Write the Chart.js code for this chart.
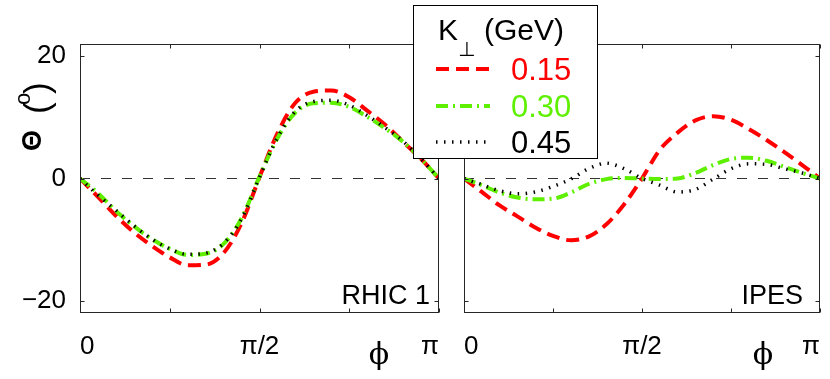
<!DOCTYPE html>
<html>
<head>
<meta charset="utf-8">
<script src="https://cdn.jsdelivr.net/npm/chart.js@4/dist/chart.umd.min.js"></script>
<style>
body { margin: 0; background: #fff; }
#wrap { position: relative; width: 830px; height: 379px; }
.pane { position: absolute; left: 0; top: 0; width: 830px; height: 379px; }
</style>
</head>
<body>
<div id="wrap">
  <div class="pane"><canvas id="rhic" width="830" height="379"></canvas></div>
  <div class="pane"><canvas id="ipes" width="830" height="379"></canvas></div>
</div>
<script>
/**
 *  Data (phi in units of pi, Theta in degrees)
 */
var phi = [0, 0.05, 0.1, 0.15, 0.2, 0.25, 0.3, 0.35, 0.4, 0.45, 0.5, 0.55, 0.6, 0.65, 0.7, 0.75, 0.8, 0.85, 0.9, 0.95, 1];

var rhic_k015 = [0, -3.0, -6.1, -8.8, -11.0, -12.9, -14.2, -14.1, -12.2, -7.3, 0.2, 7.4, 12.4, 14.2, 14.4, 13.3, 11.1, 8.8, 6.0, 3.2, 0];
var rhic_k030 = [0, -2.4, -5.3, -7.8, -9.9, -11.5, -12.5, -12.3, -10.7, -6.5, 0.3, 6.6, 10.8, 12.3, 12.4, 11.7, 10.1, 8.2, 6.0, 3.2, 0];
var rhic_k045 = [0, -2.7, -5.2, -7.7, -9.9, -11.5, -12.4, -12.2, -10.6, -6.6, 0.2, 6.7, 11.0, 12.6, 12.8, 12.0, 10.3, 8.3, 6.1, 3.2, 0];

var ipes_k015 = [0, -2.2, -4.4, -6.2, -8.0, -9.4, -10.1, -9.5, -7.5, -4.2, 0, 4.7, 7.5, 9.5, 10.2, 9.6, 8.1, 6.3, 4.3, 2.2, 0];
var ipes_k030 = [0, -1.1, -2.3, -3.1, -3.4, -3.3, -2.3, -0.9, -0.1, 0.1, 0, -0.1, 0, 0.9, 2.2, 3.2, 3.4, 2.9, 1.9, 0.9, 0];
var ipes_k045 = [0, -1.0, -2.0, -2.5, -2.2, -1.3, -0.1, 1.6, 2.5, 1.6, 0, -1.1, -2.2, -1.8, -0.1, 1.6, 2.4, 2.3, 1.6, 0.9, 0];

var xTicks = [0, 0.25, 0.5, 0.75, 1];
var xTickLabels = ["0", "", "\u03c0/2", "", "\u03c0"];
var yTicks = [-20, 0, 20];
var yTickLabels = ["\u221220", "0", "20"];

var legendTitle = "K";
var legendLabels = ["0.15", "0.30", "0.45"];

var RED = "#ff0000";
var GREEN = "#5ef000";
var BLACK = "#000000";
var FONT = "'Liberation Sans', Arial, sans-serif";

var styles = [
    { color: RED, width: 4, dash: [13, 7] },
    { color: GREEN, width: 4, dash: [12, 5, 2, 5] },
    { color: BLACK, width: 3.5, dash: [1.5, 6.5] }
];

var toPoints = function (ys) {
    return ys.map(function (y, i) { return { x: phi[i], y: y }; });
};

/**
 *  Box with inward ticks (matlab style)
 */
var framePlugin = {
    id: "frame",
    afterDraw: function (chart) {
        var a = chart.chartArea;
        var ctx = chart.ctx;
        var l = Math.round(a.left) + 0.5, r = Math.round(a.right) - 0.5;
        var t = Math.round(a.top) + 0.5, b = Math.round(a.bottom) - 0.5;
        ctx.save();
        ctx.strokeStyle = "#262626";
        ctx.lineWidth = 1;
        ctx.setLineDash([]);
        ctx.strokeRect(l, t, r - l, b - t);
        ctx.beginPath();
        chart.scales.x.ticks.forEach(function (tk) {
            var px = Math.round(chart.scales.x.getPixelForValue(tk.value)) + 0.5;
            ctx.moveTo(px, b); ctx.lineTo(px, b - 4);
            ctx.moveTo(px, t); ctx.lineTo(px, t + 4);
        });
        chart.scales.y.ticks.forEach(function (tk) {
            var py = Math.round(chart.scales.y.getPixelForValue(tk.value)) + 0.5;
            ctx.moveTo(l, py); ctx.lineTo(l + 4, py);
            ctx.moveTo(r, py); ctx.lineTo(r - 4, py);
        });
        ctx.stroke();
        ctx.restore();
    }
};

/**
 *  Text in the panels: name and phi
 */
var textPlugin = function (name, nameRight, phiX) {
    return {
        id: "panelText",
        afterDraw: function (chart) {
            var ctx = chart.ctx;
            ctx.save();
            ctx.fillStyle = "#000";
            ctx.textBaseline = "alphabetic";
            ctx.font = "27px " + FONT;
            ctx.textAlign = "right";
            ctx.fillText(name, nameRight, 304);
            ctx.font = "30px 'DejaVu Serif', 'Liberation Serif', serif";
            ctx.textAlign = "center";
            ctx.fillText("\u03d5", phiX, 364);
            ctx.restore();
        }
    };
};

var yTitlePlugin = {
    id: "yTitle",
    afterDraw: function (chart) {
        var ctx = chart.ctx;
        ctx.save();
        ctx.fillStyle = "#000";
        ctx.translate(0, 151);
        ctx.rotate(-Math.PI / 2);
        ctx.textAlign = "left";
        ctx.textBaseline = "alphabetic";
        ctx.font = "bold 27px " + FONT;
        ctx.fillText("\u0398", 0, 41);
        ctx.font = "35px " + FONT;
        ctx.fillText("(", 37, 49);
        ctx.fillText(")", 57, 49);
        ctx.font = "22px " + FONT;
        ctx.fillText("o", 46, 30);
        ctx.restore();
    }
};

var legendPlugin = {
    id: "kLegend",
    afterDraw: function (chart) {
        var ctx = chart.ctx;
        ctx.save();
        ctx.fillStyle = "#fff";
        ctx.fillRect(413, 5, 185, 154);
        ctx.strokeStyle = "#000";
        ctx.lineWidth = 1;
        ctx.setLineDash([]);
        ctx.strokeRect(413.5, 5.5, 184, 153);

        ctx.fillStyle = "#000";
        ctx.textAlign = "left";
        ctx.textBaseline = "alphabetic";
        ctx.font = "30px " + FONT;
        ctx.fillText(legendTitle, 438, 40);
        ctx.fillText("(GeV)", 484, 40);
        ctx.font = "20px 'DejaVu Sans', sans-serif";
        ctx.fillText("\u22a5", 458, 56);

        var rowsY = [69, 106, 142];
        var baseY = [80, 117, 153];
        ctx.font = "31px " + FONT;
        legendLabels.forEach(function (lab, i) {
            var s = styles[i];
            ctx.beginPath();
            ctx.strokeStyle = s.color;
            ctx.lineWidth = s.width;
            ctx.setLineDash(s.dash);
            ctx.moveTo(436, rowsY[i]);
            ctx.lineTo(490, rowsY[i]);
            ctx.stroke();
            ctx.setLineDash([]);
            ctx.fillStyle = s.color;
            ctx.fillText(lab, 511, baseY[i]);
        });
        ctx.restore();
    }
};

/**
 *  Panels
 */
var makePanel = function (canvasId, series, opt) {
    var datasets = series.map(function (ys, i) {
        return {
            data: toPoints(ys),
            borderColor: styles[i].color,
            borderWidth: styles[i].width,
            borderDash: styles[i].dash,
            borderCapStyle: "butt",
            pointRadius: 0,
            cubicInterpolationMode: "monotone",
            fill: false,
            order: 3 - i
        };
    });
    datasets.push({
        data: [{ x: 0, y: 0 }, { x: 1, y: 0 }],
        borderColor: "#333",
        borderWidth: 1,
        borderDash: [10, 11],
        pointRadius: 0,
        fill: false,
        order: 10
    });

    return new Chart(document.getElementById(canvasId), {
        type: "line",
        data: { datasets: datasets },
        options: {
            responsive: false,
            animation: false,
            devicePixelRatio: 1,
            events: [],
            layout: { padding: opt.padding },
            plugins: { legend: { display: false }, tooltip: { enabled: false } },
            scales: {
                x: {
                    type: "linear",
                    min: 0,
                    max: 1,
                    afterBuildTicks: function (s) { s.ticks = xTicks.map(function (v) { return { value: v }; }); },
                    afterFit: function (s) { s.height = 66; },
                    grid: { display: false },
                    border: { display: false },
                    ticks: {
                        align: "inner",
                        autoSkip: false,
                        maxRotation: 0,
                        padding: 10,
                        color: "#000",
                        font: { family: FONT, size: 26 },
                        callback: function (v) { return xTickLabels[xTicks.indexOf(v)]; }
                    }
                },
                y: {
                    type: "linear",
                    min: -22,
                    max: 22,
                    afterBuildTicks: function (s) { s.ticks = yTicks.map(function (v) { return { value: v }; }); },
                    afterFit: function (s) { s.width = opt.yWidth; },
                    grid: { display: false },
                    border: { display: false },
                    ticks: {
                        display: opt.yLabels,
                        padding: 6,
                        color: "#000",
                        font: { family: FONT, size: 26 },
                        callback: function (v) { return yTickLabels[yTicks.indexOf(v)]; }
                    }
                }
            }
        },
        plugins: opt.plugins
    });
};

makePanel("rhic", [rhic_k015, rhic_k030, rhic_k045], {
    padding: { left: 0, top: 44, right: 391, bottom: 0 },
    yWidth: 80,
    yLabels: true,
    plugins: [framePlugin, textPlugin("RHIC 1", 430, 379), yTitlePlugin]
});

makePanel("ipes", [ipes_k015, ipes_k030, ipes_k045], {
    padding: { left: 0, top: 44, right: 7, bottom: 0 },
    yWidth: 464,
    yLabels: false,
    plugins: [framePlugin, textPlugin("IPES", 803, 763), legendPlugin]
});
</script>
</body>
</html>
